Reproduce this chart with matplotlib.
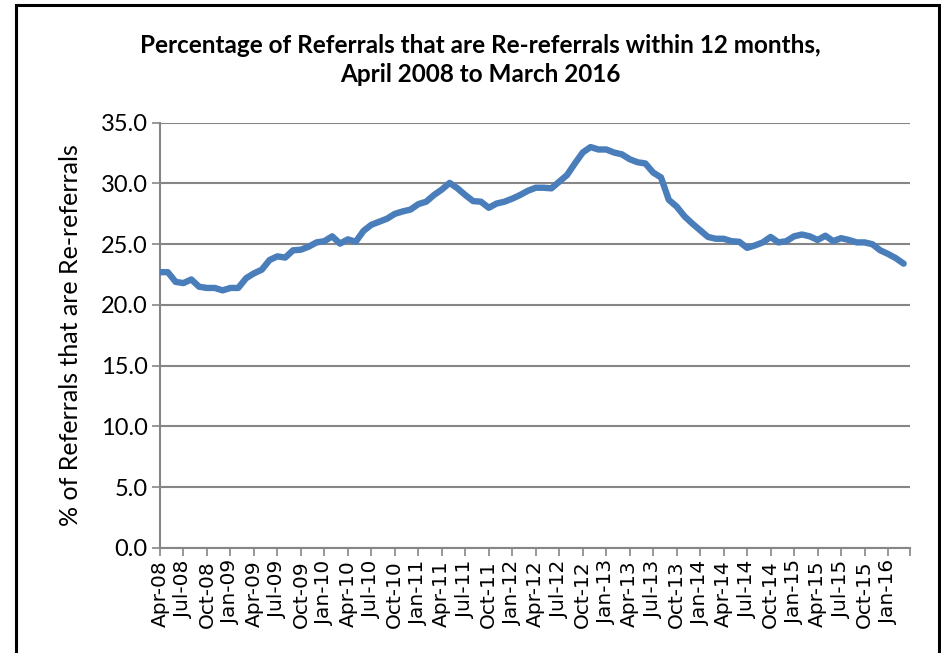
import matplotlib
matplotlib.use("Agg")
import matplotlib.pyplot as plt
from matplotlib.patches import Rectangle

# monthly values, Apr-08 .. Mar-16
MONTHS = ["Jan", "Feb", "Mar", "Apr", "May", "Jun",
          "Jul", "Aug", "Sep", "Oct", "Nov", "Dec"]
labels = []
for i in range(96):
    mi = (3 + i) % 12
    yr = 8 + (3 + i) // 12
    labels.append(f"{MONTHS[mi]}-{yr:02d}")

rereferral_pct = [
    22.7, 22.7, 21.9, 21.8, 22.1, 21.5, 21.4, 21.4, 21.2, 21.4, 21.4, 22.2,   # Apr-08..Mar-09
    22.6, 22.9, 23.7, 24.0, 23.9, 24.5, 24.55, 24.8, 25.15, 25.25, 25.65, 25.05,  # Apr-09..Mar-10
    25.4, 25.2, 26.1, 26.6, 26.85, 27.1, 27.5, 27.7, 27.85, 28.3, 28.5, 29.05,    # Apr-10..Mar-11
    29.5, 30.05, 29.6, 29.05, 28.55, 28.5, 28.0, 28.35, 28.5, 28.75, 29.05, 29.4,  # Apr-11..Mar-12
    29.65, 29.65, 29.6, 30.15, 30.7, 31.65, 32.55, 33.0, 32.8, 32.8, 32.55, 32.4,  # Apr-12..Mar-13
    32.0, 31.75, 31.65, 30.9, 30.5, 28.65, 28.1, 27.3, 26.7, 26.15, 25.6, 25.45,   # Apr-13..Mar-14
    25.45, 25.25, 25.2, 24.7, 24.9, 25.15, 25.6, 25.15, 25.25, 25.65, 25.8, 25.65, # Apr-14..Mar-15
    25.35, 25.7, 25.25, 25.5, 25.35, 25.15, 25.15, 25.0, 24.5, 24.2, 23.85, 23.4,  # Apr-15..Mar-16
]

title = ("Percentage of Referrals that are Re-referrals within 12 months,\n"
         "April 2008 to March 2016")
ylabel = "% of Referrals that are Re-referrals"

fig = plt.figure(figsize=(9.41, 6.53), dpi=100)
ax = fig.add_axes([0.170, 0.161, 0.797, 0.651])

x = list(range(len(rereferral_pct)))
ax.plot(x, rereferral_pct, color="#4A7EBB", linewidth=4.6,
        solid_joinstyle="round", solid_capstyle="round", zorder=3)

ax.set_ylim(0, 35)
ax.set_yticks([0, 5, 10, 15, 20, 25, 30, 35])
ax.set_yticklabels([f"{v:.1f}" for v in [0, 5, 10, 15, 20, 25, 30, 35]],
                   fontfamily="Lato", fontsize=17)
ax.set_xlim(0, 95.8)
ax.set_xticks(x[::3] + [95.8])
ax.set_xticklabels(labels[::3] + [""], rotation=90, fontsize=14.5,
                   fontfamily="DejaVu Sans")

ax.yaxis.grid(True, color="#868686", linewidth=1.5)
ax.set_axisbelow(True)
for s in ("top", "right"):
    ax.spines[s].set_visible(False)
for s in ("left", "bottom"):
    ax.spines[s].set_color("#868686")
    ax.spines[s].set_linewidth(1.5)
ax.tick_params(axis="both", color="#868686", width=1.2, length=6,
               direction="out", pad=3)
ax.tick_params(axis="x", pad=3)

ax.set_ylabel(ylabel, fontfamily="Lato", fontsize=18, labelpad=13)
fig.text(0.51, 0.908, title, ha="center", va="center", fontsize=17.5,
         fontweight="bold", fontfamily="Lato", linespacing=1.3)

# outer chart frame
fig.add_artist(Rectangle((16 / 941, -0.01), (939 - 16) / 941, 1 - 5 / 653 + 0.01,
                         transform=fig.transFigure, fill=False,
                         edgecolor="black", linewidth=2.2))

fig.savefig("out.png", dpi=100)
